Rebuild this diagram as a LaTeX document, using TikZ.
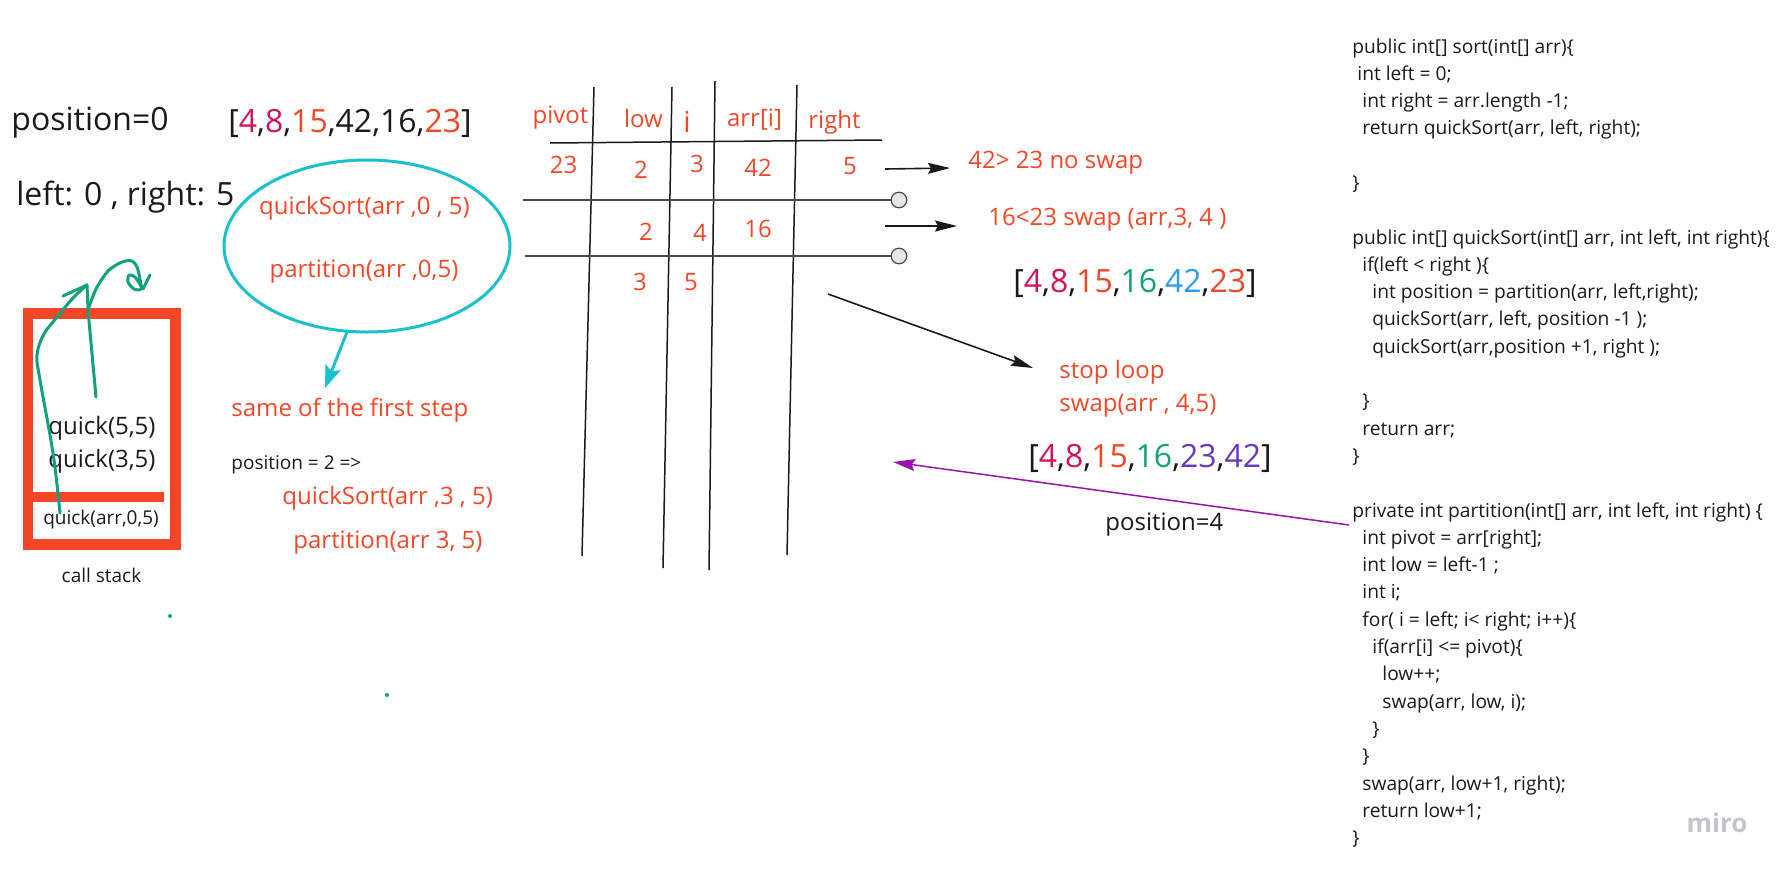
\documentclass[tikz,border=0pt]{standalone}
\usepackage{fontspec}
\setmainfont{Open Sans}
\usetikzlibrary{arrows.meta,shapes.geometric}
\definecolor{mred}{HTML}{F24726}
\definecolor{mmag}{HTML}{D0135F}
\definecolor{mteal}{HTML}{12A17F}
\definecolor{mblue}{HTML}{2D9BF0}
\definecolor{mpurp}{HTML}{6738BE}
\definecolor{marrow}{HTML}{9A12AE}
\definecolor{mcyan}{HTML}{1AC0CC}
\definecolor{ink}{HTML}{1A1A1A}
\definecolor{lgray}{HTML}{4A4A4A}
\definecolor{mirogray}{HTML}{C4C4CC}
\begin{document}
\begin{tikzpicture}[x=0.5pt,y=-0.5pt,
  txt/.style={inner sep=0pt, text=ink},
  rtxt/.style={inner sep=0pt, text=mred},
  big/.style={font=\fontsize{16}{19}\selectfont},
  mid/.style={font=\fontsize{12}{14}\selectfont},
  sml/.style={font=\fontsize{9.5}{11}\selectfont},
  tline/.style={draw=ink, line width=0.75pt},
  gline/.style={draw=lgray, line width=0.75pt},
  endc/.style={circle, draw=lgray, fill=black!10, line width=0.6pt, minimum size=7.8pt, inner sep=0pt},
  blkarrow/.style={draw=ink, line width=0.8pt, -{Stealth[length=11pt,width=5.5pt,inset=1.5pt]}},
  green/.style={draw=mteal, line width=1.5pt, line cap=round, line join=round},
  stackbox/.style={draw=mred, line width=5.25pt}
]
\useasboundingbox (0,0) rectangle (1788,873);

% left texts
\node[txt,big,anchor=west] (pos0) at (11,123) {position=0};
\node[txt,big,anchor=west] (arr0) at (228,123) {[\textcolor{mmag}{4},\textcolor{mmag}{8},\textcolor{mred}{15},42,16,\textcolor{mred}{23}]};
\node[txt,big,anchor=west] (lr) at (16,197) {left: 0 , right: 5};

% ellipse
\node[ellipse, draw=mcyan, line width=1.5pt, minimum width=143pt, minimum height=86pt] (ell) at (367,246) {};
\node[rtxt,mid] (qs05) at (364.5,208) {quickSort(arr ,0 , 5)};
\node[rtxt,mid] (pa05) at (364,272) {partition(arr ,0,5)};
\coordinate (cyS) at (347,332);
\coordinate (cyE) at (325,388);
\draw[draw=mcyan, line width=1.5pt, -{Stealth[length=11pt,width=8pt,inset=2pt]}] (cyS) -- (cyE);

\node[rtxt,mid,anchor=west] (same) at (231,410) {same of the first step};
\node[txt,sml,anchor=west] (pos2) at (231,465) {position = 2 =>};
\node[rtxt,mid,anchor=west] (qs35) at (282,498) {quickSort(arr ,3 , 5)};
\node[rtxt,mid,anchor=west] (pa35) at (293,543) {partition(arr 3, 5)};

% call stack
\draw[stackbox] (28,313.5) rectangle (175.5,544.5);
\draw[draw=mred, line width=5pt] (33,497) -- (164,497);
\node[txt,mid] (q55) at (102,428) {quick(5,5)};
\node[txt,mid] (q35) at (102,461) {quick(3,5)};
\node[txt,sml] (q05) at (101,520) {quick(arr,0,5)};
\node[txt,sml] (cs) at (101.5,575) {call stack};

% green strokes
\draw[green] plot[smooth, tension=0.6] coordinates {(60,513) (53,453) (40,380) (37,355) (44,334) (58,316) (73,298) (87,285)};
\draw[green] (63,296) -- (87,285) -- (88,309);
\draw[green] (96,397) -- (88,310);
\draw[green] plot[smooth, tension=0.5] coordinates {(88,310) (96,289) (108,271) (122,262) (132,261) (137,267) (140,279) (141,289) (134,289) (128,282) (129,275) (135,277) (141,286) (143,289)};
\draw[green] (143,289) -- (150,275);
\fill[mteal] (170,616) circle (1pt);
\fill[mteal] (387,695) circle (1pt);

% table
\draw[tline] (594,87) -- (582,556);
\draw[tline] (672,87) -- (663,568);
\draw[tline] (715,81) -- (709,570);
\draw[tline] (797,85) -- (787,555);
\draw[tline] (550,143) -- (882,140);
\node[endc] (c1) at (899,200) {};
\node[endc] (c2) at (899,256) {};
\coordinate (h2s) at (523,200);
\coordinate (h3s) at (525,256);
\draw[gline] (h2s) -- (c1);
\draw[gline] (h3s) -- (c2);

\node[rtxt,mid] (hpivot) at (560.5,118) {pivot};
\node[rtxt,mid] (hlow) at (643.5,118) {low};
\node[rtxt,font=\fontsize{14.5}{16}\selectfont] (hi) at (687,122) {i};
\node[rtxt,mid] (harr) at (754.5,120) {arr[i]};
\node[rtxt,mid] (hright) at (834.5,122) {right};

\node[rtxt,mid] (v23) at (563.5,165) {23};
\node[rtxt,mid] (v2a) at (641,170) {2};
\node[rtxt,mid] (v3a) at (697,164) {3};
\node[rtxt,mid] (v42) at (758,168) {42};
\node[rtxt,mid] (v5a) at (850,166) {5};
\node[rtxt,mid] (v2b) at (646,232) {2};
\node[rtxt,mid] (v4b) at (700,233) {4};
\node[rtxt,mid] (v16) at (758,229) {16};
\node[rtxt,mid] (v3c) at (640,282) {3};
\node[rtxt,mid] (v5c) at (691,282) {5};

% right annotations
\node[rtxt,mid,anchor=west] (nos) at (968,163) {42> 23 no swap};
\node[rtxt,mid,anchor=west] (swp) at (988,220) {16<23 swap (arr,3, 4 )};
\node[txt,big,anchor=west] (arr1) at (1013,283) {[\textcolor{mmag}{4},\textcolor{mmag}{8},\textcolor{mred}{15},\textcolor{mteal}{16},\textcolor{mblue}{42},\textcolor{mred}{23}]};
\node[rtxt,mid,anchor=west] (stop) at (1059,372) {stop loop};
\node[rtxt,mid,anchor=west] (sw45) at (1059,406) {swap(arr , 4,5)};
\node[txt,big,anchor=west] (arr2) at (1028,458) {[\textcolor{mmag}{4},\textcolor{mmag}{8},\textcolor{mred}{15},\textcolor{mteal}{16},\textcolor{mpurp}{23},\textcolor{mpurp}{42}]};
\node[txt,mid,anchor=west] (pos4) at (1105,525) {position=4};

\coordinate (a1s) at (885,169);
\coordinate (a1e) at (950,168);
\coordinate (a2s) at (885,226);
\coordinate (a2e) at (957,226);
\coordinate (a3s) at (828,294);
\coordinate (a3e) at (1033,368);
\draw[blkarrow] (a1s) -- (a1e);
\draw[blkarrow] (a2s) -- (a2e);
\draw[blkarrow] (a3s) -- (a3e);

% code
\node[txt,anchor=north west,align=left,font=\fontsize{9.6}{13.65}\selectfont] (code) at (1352,38) {%
public int[] sort(int[] arr)\{\\
\hspace*{2.5pt}int left = 0;\\
\hspace*{5pt}int right = arr.length -1;\\
\hspace*{5pt}return quickSort(arr, left, right);\\
\mbox{}\\
\}\\
\mbox{}\\
public int[] quickSort(int[] arr, int left, int right)\{\\
\hspace*{5pt}if(left < right )\{\\
\hspace*{10pt}int position = partition(arr, left,right);\\
\hspace*{10pt}quickSort(arr, left, position -1 );\\
\hspace*{10pt}quickSort(arr,position +1, right );\\
\mbox{}\\
\hspace*{5pt}\}\\
\hspace*{5pt}return arr;\\
\}\\
\mbox{}\\
private int partition(int[] arr, int left, int right) \{\\
\hspace*{5pt}int pivot = arr[right];\\
\hspace*{5pt}int low = left-1 ;\\
\hspace*{5pt}int i;\\
\hspace*{5pt}for( i = left; i< right; i++)\{\\
\hspace*{10pt}if(arr[i] <= pivot)\{\\
\hspace*{15pt}low++;\\
\hspace*{15pt}swap(arr, low, i);\\
\hspace*{10pt}\}\\
\hspace*{5pt}\}\\
\hspace*{5pt}swap(arr, low+1, right);\\
\hspace*{5pt}return low+1;\\
\}};
\coordinate (pstart) at (1349,525);
\coordinate (pend) at (893,462);
\draw[draw=marrow, line width=0.75pt, -{Stealth[length=11pt,width=6pt,inset=1.5pt]}] (pstart) -- (pend);

\node[inner sep=0pt, text=mirogray, font=\fontsize{13}{15}\selectfont\bfseries] (miro) at (1717,823) {miro};
\end{tikzpicture}
\end{document}
